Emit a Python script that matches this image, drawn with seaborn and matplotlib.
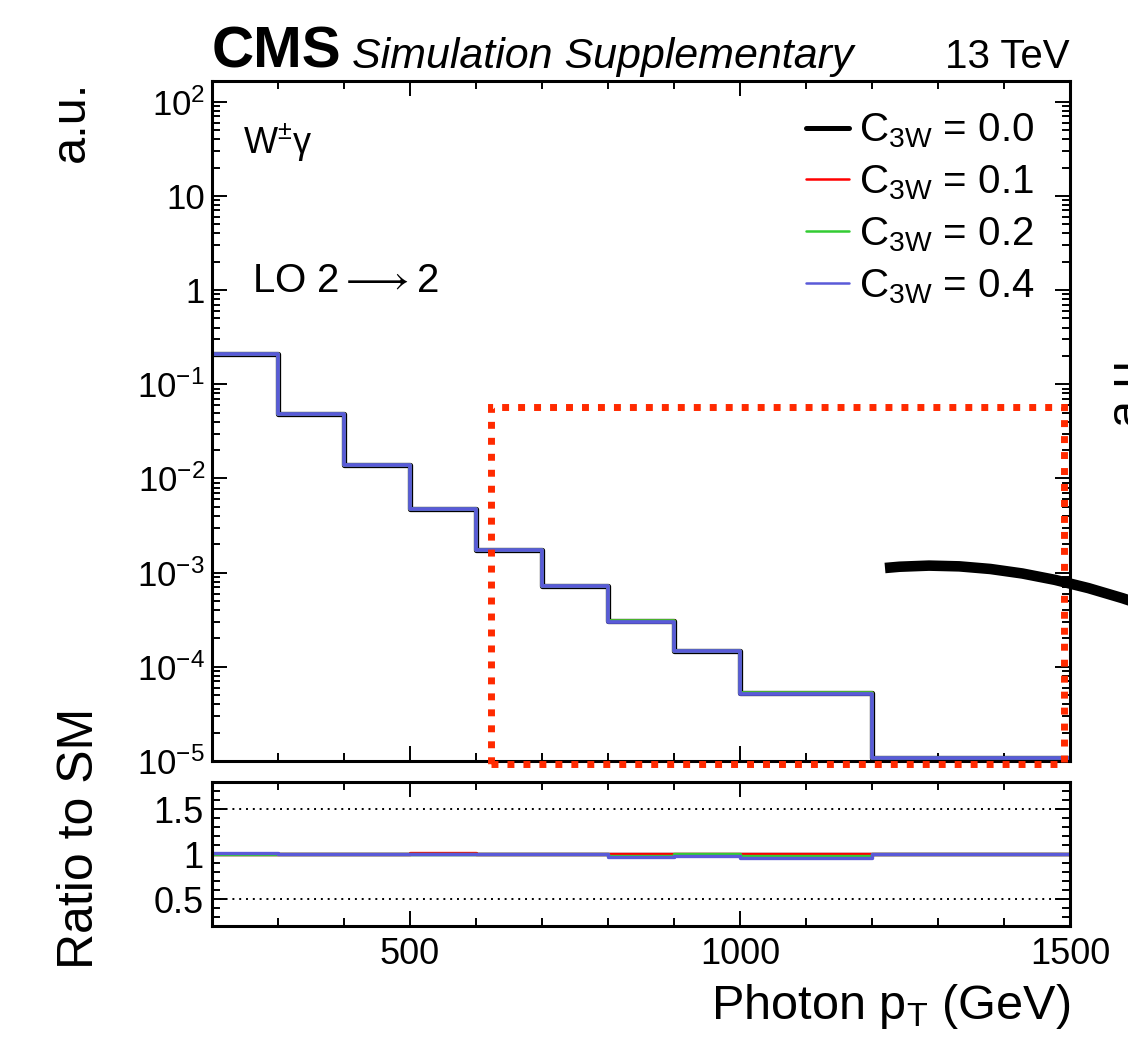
import numpy as np
import pandas as pd
import seaborn as sns
import matplotlib.pyplot as plt
from matplotlib.lines import Line2D
from matplotlib.path import Path
from matplotlib.patches import PathPatch, Rectangle
from matplotlib.ticker import FixedLocator, FixedFormatter, LogLocator, MultipleLocator, NullFormatter

# Photon pT binning (GeV) and SM yield per bin (a.u.)
edges = [200, 300, 400, 500, 600, 700, 800, 900, 1000, 1200, 1500]
sm_yield = [0.21, 0.048, 0.0139, 0.0047, 0.00173, 7.2e-4, 3.1e-4, 1.48e-4, 5.3e-5, 1.07e-5]

# ratio to SM
ratio_c00 = [1.0, 1.0, 1.0, 1.0, 1.0, 1.0, 1.0, 1.0, 1.0, 1.0]
ratio_c01 = [1.0, 1.0, 1.0, 1.015, 1.0, 1.0, 1.0, 1.0, 1.0, 1.005]
ratio_c02 = [0.995, 1.0, 1.0, 1.0, 1.0, 1.0, 0.983, 0.995, 0.983, 1.005]
ratio_c04 = [1.01, 0.998, 0.998, 0.998, 0.998, 0.998, 0.969, 0.983, 0.96, 1.005]

couplings = ["0.0", "0.1", "0.2", "0.4"]
ratios = [ratio_c00, ratio_c01, ratio_c02, ratio_c04]
colors = ["black", "#ff0000", "#33cc33", "#5a5ad8"]

# zoom box drawn over the tail (pT range, y range)
box_pt = (622, 1491)
box_y = (10 ** -5.03, 0.058)

centers = [(lo + hi) / 2 for lo, hi in zip(edges[:-1], edges[1:])]
rows = []
for c, r in zip(couplings, ratios):
    for pt, sm, rr in zip(centers, sm_yield, r):
        rows.append({"pt": pt, "coupling": c, "ratio": rr, "yield": sm * rr})
df = pd.DataFrame(rows)

sns.set_style("ticks")
plt.rcParams["font.family"] = ["Liberation Sans", "DejaVu Sans"]
plt.rcParams["mathtext.fontset"] = "custom"
plt.rcParams["mathtext.rm"] = "Liberation Sans"
plt.rcParams["mathtext.it"] = "Liberation Sans:italic"
plt.rcParams["mathtext.bf"] = "Liberation Sans:bold"
plt.rcParams["mathtext.default"] = "regular"
plt.rcParams["axes.linewidth"] = 2.2
for key in ("text.color", "axes.labelcolor", "xtick.color", "ytick.color", "axes.edgecolor"):
    plt.rcParams[key] = "black"

fig = plt.figure(figsize=(11.28, 10.51), dpi=100)
ax = fig.add_axes([0.18794, 0.27593, 0.76064, 0.6470])
rax = fig.add_axes([0.18794, 0.11893, 0.76064, 0.13701], sharex=ax)

for c, col in zip(couplings, colors):
    d = df[df["coupling"] == c]
    lw = 3.8 if c == "0.0" else 2.7
    sns.histplot(x=d["pt"], weights=d["yield"], bins=edges, element="step",
                 fill=False, color=col, linewidth=lw, ax=ax)
    sns.histplot(x=d["pt"], weights=d["ratio"], bins=edges, element="step",
                 fill=False, color=col, linewidth=2.4, ax=rax)

# main pad
ax.set_yscale("log")
ax.set_xlim(200, 1500)
ax.set_ylim(1e-5, 10 ** 2.22)
ax.yaxis.set_major_locator(FixedLocator([1e-5, 1e-4, 1e-3, 1e-2, 1e-1, 1, 10, 100]))
ax.yaxis.set_major_formatter(FixedFormatter(["$10^{-5}$", "$10^{-4}$", "$10^{-3}$", "$10^{-2}$",
                                             "$10^{-1}$", "1", "10", "$10^{2}$"]))
ax.yaxis.set_minor_locator(LogLocator(base=10, subs=np.arange(2, 10), numticks=20))
ax.yaxis.set_minor_formatter(NullFormatter())
ax.xaxis.set_major_locator(MultipleLocator(500))
ax.xaxis.set_minor_locator(MultipleLocator(100))
for a in (ax, rax):
    a.tick_params(which="both", direction="in", top=True, right=True, width=1.4)
    a.tick_params(which="major", length=11)
    a.tick_params(which="minor", length=5.5)
ax.tick_params(axis="y", which="major", labelsize=25, pad=5)
ax.tick_params(labelbottom=False)
ax.set_xlabel("")
ax.set_ylabel("a.u.", loc="top", fontsize=35)
ax.yaxis.set_label_coords(-0.138, 1.0)

ax.add_patch(Rectangle((box_pt[0], box_y[0]), box_pt[1] - box_pt[0], box_y[1] - box_y[0],
                       fill=False, edgecolor="#ff2a00", linewidth=5, linestyle=(0, (1, 1.3)),
                       capstyle="butt", joinstyle="miter", clip_on=False, zorder=5))

ax.text(0.036, 0.894, "W$^{\\pm}$γ", transform=ax.transAxes, fontsize=26)
ax.text(0.047, 0.69, "LO 2$\\longrightarrow$2", transform=ax.transAxes, fontsize=29)

handles = [Line2D([], [], color=col, lw=3.6 if c == "0.0" else 1.8) for c, col in zip(couplings, colors)]
labels = ["C$_{3W}$ = " + c for c in couplings]
ax.legend(handles, labels, loc="upper right", bbox_to_anchor=(0.959, 0.955), frameon=False,
          fontsize=29, borderaxespad=0, borderpad=0, handlelength=1.07, handletextpad=0.25,
          labelspacing=0.33)

# ratio pad
rax.set_ylim(0.2, 1.8)
for yv in (0.5, 1.0, 1.5):
    rax.axhline(yv, color="black", lw=1.4, ls=(0, (1, 2.5)), zorder=0)
rax.yaxis.set_major_locator(FixedLocator([0.5, 1.0, 1.5]))
rax.yaxis.set_major_formatter(FixedFormatter(["0.5", "1", "1.5"]))
rax.yaxis.set_minor_locator(MultipleLocator(0.1))
rax.tick_params(axis="both", which="major", labelsize=26)
rax.tick_params(axis="y", pad=6)
rax.tick_params(axis="x", pad=8)
rax.set_ylabel("Ratio to SM", fontsize=36)
rax.yaxis.set_label_coords(-0.127, 0.61)
rax.set_xlabel("Photon p$_{T}$ (GeV)", loc="right", fontsize=35)
rax.xaxis.set_label_coords(1.0, -0.39)

# header
fig.text(0.18794, 0.9353, "CMS", fontsize=42, fontweight="bold", va="baseline")
fig.text(0.312, 0.9353, "Simulation Supplementary", fontsize=31, style="italic", va="baseline")
fig.text(0.9486, 0.9353, "13 TeV", fontsize=29, ha="right", va="baseline")

# connector toward the neighbouring panel (cut by the figure edge)
curve = Path([(8.85, 4.83), (10.0, 4.95), (11.40, 4.47)], [Path.MOVETO, Path.CURVE3, Path.CURVE3])
fig.add_artist(PathPatch(curve, transform=fig.dpi_scale_trans, fill=False, edgecolor="black",
                         linewidth=7.6, capstyle="butt"))
fig.text(0.979, 0.634, "a.u.", rotation=90, fontsize=35, ha="left", va="center")

fig.savefig("out.png", dpi=100)
